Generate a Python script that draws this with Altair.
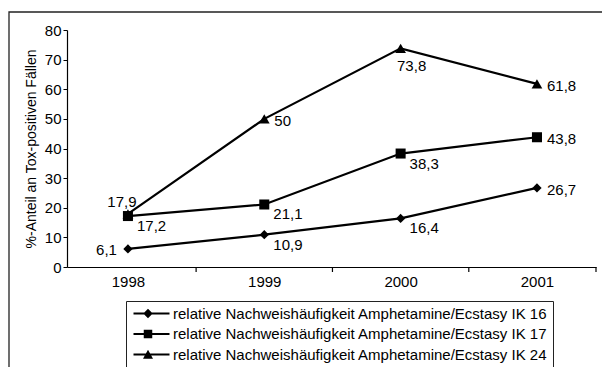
import altair as alt
import pandas as pd

# --- data -------------------------------------------------------------
years = [1998, 1999, 2000, 2001]
series_names = [
    "relative Nachweishäufigkeit Amphetamine/Ecstasy IK 16",
    "relative Nachweishäufigkeit Amphetamine/Ecstasy IK 17",
    "relative Nachweishäufigkeit Amphetamine/Ecstasy IK 24",
]
ik16 = [6.1, 10.9, 16.4, 26.7]
ik17 = [17.2, 21.1, 38.3, 43.8]
ik24 = [17.9, 50.0, 73.8, 61.8]
y_ticks = [0, 10, 20, 30, 40, 50, 60, 70, 80]

# where each value label sits relative to its marker
place16 = ["left", "below_right", "below_right", "right"]
place17 = ["below_right", "below_right", "below_right", "right"]
place24 = ["above_left", "right", "below", "right"]

rows = []
for name, vals, places, order in [
    (series_names[0], ik16, place16, 0),
    (series_names[1], ik17, place17, 2),
    (series_names[2], ik24, place24, 1),
]:
    for y, v, p in zip(years, vals, places):
        rows.append({"series": name, "year": y, "value": v, "place": p, "z": order})
df = pd.DataFrame(rows)
df_points = df.sort_values("z")

# category boundaries for the x-axis tick marks
x_lo, x_hi = 1997.553, 2001.433
bounds = pd.DataFrame({"b": [1998.5, 1999.5, 2000.5, x_hi]})

W, H = 529, 237
FONT = "Liberation Sans"
INK = "#000000"

x_scale = alt.Scale(domain=[x_lo, x_hi], nice=False, zero=False)
y_scale = alt.Scale(domain=[0, 80], nice=False)

x_axis = alt.Axis(
    values=years, format="d", ticks=False, grid=False, title=None,
    labelFontSize=15, labelFont=FONT, labelColor=INK, labelPadding=7,
    domainColor=INK, domainWidth=1.2, labelFlush=False, labelOverlap=False,
)
y_axis = alt.Axis(
    values=y_ticks, grid=False,
    title="%-Anteil an Tox-positiven Fällen",
    titleFontSize=14, titleFont=FONT, titleColor=INK, titleFontWeight="normal",
    titlePadding=6,
    labelFontSize=15, labelFont=FONT, labelColor=INK, labelPadding=2,
    labelOverlap=False, labelFlush=False,
    tickSize=4, tickColor=INK, domainColor=INK, domainWidth=1.2,
)


def xy():
    return dict(
        x=alt.X("year:Q", scale=x_scale, axis=x_axis),
        y=alt.Y("value:Q", scale=y_scale, axis=y_axis),
    )


base = alt.Chart(df)

# outer frame around the whole figure
frame = alt.Chart(pd.DataFrame({"k": [0]})).mark_rect(
    fill=None, stroke="#222222", strokeWidth=1.3
).encode(
    x=alt.value(-58), x2=alt.value(W + 40), y=alt.value(-18), y2=alt.value(H + 120)
)

lines = base.mark_line(color=INK, strokeWidth=2.2).encode(
    detail="series:N", **xy()
)

points = alt.Chart(df_points).mark_point(filled=True, color=INK, opacity=1).encode(
    shape=alt.Shape(
        "series:N",
        scale=alt.Scale(domain=series_names, range=["diamond", "square", "triangle-up"]),
        legend=None,
    ),
    size=alt.Size(
        "series:N",
        scale=alt.Scale(domain=series_names, range=[86, 115, 121]),
        legend=None,
    ),
    **xy(),
)

# legend symbols: a line segment with the series marker
seg = "M-1,-0.2H6.2V0.2H-1Z"
legend_shapes = [
    seg + "M1.9,-0.95L2.85,0L1.9,0.95L0.95,0Z",
    seg + "M1.05,-0.85H2.75V0.85H1.05Z",
    seg + "M1.9,-0.95L2.9,0.85H0.9Z",
]
legend_layer = base.mark_point(filled=True, color=INK, opacity=1).encode(
    shape=alt.Shape(
        "series:N",
        scale=alt.Scale(domain=series_names, range=legend_shapes),
        legend=alt.Legend(
            title=None, orient="none", legendX=59, legendY=271,
            labelFontSize=15, labelFont=FONT, labelColor=INK, labelLimit=0,
            labelOffset=27, symbolSize=100, symbolFillColor=INK,
            symbolStrokeWidth=0, rowPadding=4.5, padding=5,
            strokeColor="#222222", fillColor="white",
        ),
    ),
    **xy(),
).transform_filter("datum.value < 0")

ticks = alt.Chart(bounds).mark_rule(color=INK, strokeWidth=1.2).encode(
    x=alt.X("b:Q", scale=x_scale, axis=x_axis), y=alt.value(H), y2=alt.value(H + 5)
)

text_base = base.transform_calculate(
    label="replace(format(datum.value, '.3~g'), '.', ',')"
)
label_styles = {
    "left": dict(align="right", dx=-11, dy=1),
    "below_right": dict(align="left", dx=9, dy=10),
    "right": dict(align="left", dx=10, dy=2),
    "above_left": dict(align="center", dx=-6, dy=-12),
    "below": dict(align="center", dx=11, dy=18),
}
text_layers = [
    text_base.transform_filter(alt.datum.place == p)
    .mark_text(baseline="middle", fontSize=15, font=FONT, color=INK, **st)
    .encode(text="label:N", **xy())
    for p, st in label_styles.items()
]

chart = (
    alt.layer(frame, lines, ticks, legend_layer, points, *text_layers)
    .resolve_scale(shape="independent", size="independent")
    .properties(
        width=W, height=H,
        autosize=alt.AutoSizeParams(type="none"),
        padding={"left": 67, "top": 30, "right": 6, "bottom": 100},
        background="white",
    )
    .configure_view(stroke=None)
    .configure_axisY(labelOverlap=False)
)

chart.save("out.html", embed_options={"renderer": "svg", "actions": False})
